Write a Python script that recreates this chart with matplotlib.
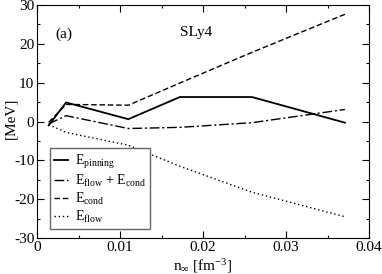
import numpy as np
import matplotlib as mpl
import matplotlib.pyplot as plt

params = {
    'font.family': 'serif',
    'font.serif': ['Liberation Serif', 'DejaVu Serif'],
    'mathtext.fontset': 'custom',
    'mathtext.rm': 'Liberation Serif',
    'mathtext.it': 'Liberation Serif',
    'axes.unicode_minus': False,
    'font.size': 11,
    'xtick.direction': 'in',
    'ytick.direction': 'in',
    'xtick.top': True,
    'ytick.right': True,
}
mpl.rcParams.update(params)

# data
n_inf = [0.0014, 0.0035, 0.011, 0.0172, 0.0259, 0.0371]
e_pinning = [-1.0, 4.9, 0.6, 6.3, 6.3, -0.3]
e_flow_cond = [-0.6, 1.5, -1.8, -1.5, -0.3, 3.1]
e_cond = [-0.2, 4.4, 4.2, 9.9, 17.8, 27.6]
e_flow = [-0.8, -2.8, -6.1, -11.5, -18.2, -24.5]

fig = plt.figure(figsize=(3.82, 2.74), dpi=100)
ax = fig.add_axes([0.097, 0.131, 0.869, 0.851])

ax.plot(n_inf, e_pinning, 'k-', lw=1.3, label=r'E$_{\rm pinning}$')
ax.plot(n_inf, e_flow_cond, 'k', ls=(0, (7, 2, 1.5, 2)), lw=1.0,
        label=r'E$_{\rm flow}$ + E$_{\rm cond}$')
ax.plot(n_inf, e_cond, 'k', ls=(0, (4, 2)), lw=1.0, label=r'E$_{\rm cond}$')
ax.plot(n_inf, e_flow, 'k', ls=(0, (1, 2)), lw=1.0, label=r'E$_{\rm flow}$')

ax.set_xlim(0, 0.04)
ax.set_ylim(-30, 30)
ax.set_xticks([0, 0.01, 0.02, 0.03, 0.04])
ax.set_xticklabels(['0', '0.01', '0.02', '0.03', '0.04'])
ax.set_xticks([0.005, 0.015, 0.025, 0.035], minor=True)
ax.set_yticks([-30, -20, -10, 0, 10, 20, 30])
ax.set_yticks(np.arange(-25, 30, 10), minor=True)
ax.tick_params(which='major', length=5, width=0.8, labelsize=11, pad=2)
ax.tick_params(which='minor', length=2.5, width=0.8)

ax.set_xlabel(r'n$_\infty$ [fm$^{-3}$]', fontsize=11, labelpad=2)
fig.text(0.028, 0.57, '[MeV]', fontsize=11, rotation=90, ha='center', va='center')

ax.text(0.0022, 21.5, '(a)', fontsize=11)
ax.text(0.0172, 22, 'SLy4', fontsize=11)

leg = ax.legend(loc='lower left', bbox_to_anchor=(0.04, 0.038), borderaxespad=0,
                fontsize=10, handlelength=1.0, handletextpad=0.5, labelspacing=0.15,
                borderpad=0.3, fancybox=False, framealpha=1)
leg.get_frame().set_edgecolor('0.4')
leg.get_frame().set_linewidth(1.0)

fig.savefig('out.png', dpi=100)
